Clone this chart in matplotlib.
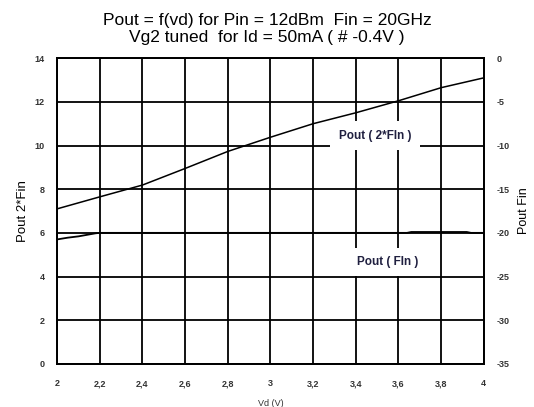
import matplotlib.pyplot as plt

plt.rcParams['font.family'] = ['Liberation Sans', 'DejaVu Sans']
plt.rcParams['axes.unicode_minus'] = False

vd = [2.0, 2.2, 2.4, 2.6, 2.8, 3.0, 3.2, 3.4, 3.6, 3.8, 4.0]
pout_2fin = [7.1, 7.65, 8.19, 8.95, 9.73, 10.38, 11.0, 11.5, 12.05, 12.65, 13.1]

vd_fin = [2.0, 2.05, 2.1, 2.18, 2.2, 3.0, 3.64, 3.66, 3.92, 3.94, 4.0]
pout_fin = [-20.75, -20.55, -20.4, -20.05, -20.0, -20.0, -20.0, -19.9, -19.9, -20.0, -20.0]

x_ticks = [2.0, 2.2, 2.4, 2.6, 2.8, 3.0, 3.2, 3.4, 3.6, 3.8, 4.0]
x_labels = ["2", "2,2", "2,4", "2,6", "2,8", "3", "3,2", "3,4", "3,6", "3,8", "4"]
left_ticks = [0, 2, 4, 6, 8, 10, 12, 14]
right_ticks = [-35, -30, -25, -20, -15, -10, -5, 0]


def get_graph():
    fig = plt.figure(figsize=(5.34, 4.07), dpi=100)
    ax = fig.add_axes([0.107, 0.106, 0.799, 0.751])
    ax2 = ax.twinx()

    ax.set_xlim(2, 4)
    ax.set_ylim(0, 14)
    ax2.set_ylim(-35, 0)
    ax.set_xticks(x_ticks)
    ax.set_xticklabels(x_labels)
    ax.set_yticks(left_ticks)
    ax2.set_yticks(right_ticks)

    ax.grid(True, color="black", linewidth=1.3)
    ax.set_axisbelow(True)
    for a in (ax, ax2):
        for s in a.spines.values():
            s.set_linewidth(1.3)
    ax.tick_params(axis="both", length=0, labelsize=6.5, pad=9)
    ax.tick_params(axis="x", pad=11)
    ax2.tick_params(axis="y", length=0, labelsize=6.5, pad=9)
    for lab in ax.get_xticklabels() + ax.get_yticklabels() + ax2.get_yticklabels():
        lab.set_fontweight("bold")
        lab.set_color("#333333")

    ax.plot(vd, pout_2fin, color="black", linewidth=1.1, zorder=3)
    ax2.plot(vd_fin, pout_fin, color="black", linewidth=1.3, zorder=3)

    box = dict(facecolor="white", edgecolor="none", pad=6)
    ax.text(3.49, 10.45, "Pout ( 2*FIn )", ha="center", va="center", fontsize=8.5,
            fontweight="bold", color="#202040", bbox=box, zorder=4)
    ax.text(3.55, 4.67, "Pout ( FIn )", ha="center", va="center", fontsize=8.5,
            fontweight="bold", color="#202040", bbox=box, zorder=4)

    ax.set_xlabel("Vd (V)", fontsize=6.5, labelpad=8, color="#333333")
    ax.set_ylabel("Pout 2*Fin", fontsize=9.5, labelpad=4)
    ax2.set_ylabel("Pout Fin", fontsize=9, labelpad=6)

    fig.suptitle("Pout = f(vd) for Pin = 12dBm  Fin = 20GHz\nVg2 tuned  for Id = 50mA ( # -0.4V )",
                 fontsize=12.5, y=0.968, linespacing=1.2)
    fig.savefig("out.png", dpi=100)


if __name__ == '__main__':
    get_graph()
